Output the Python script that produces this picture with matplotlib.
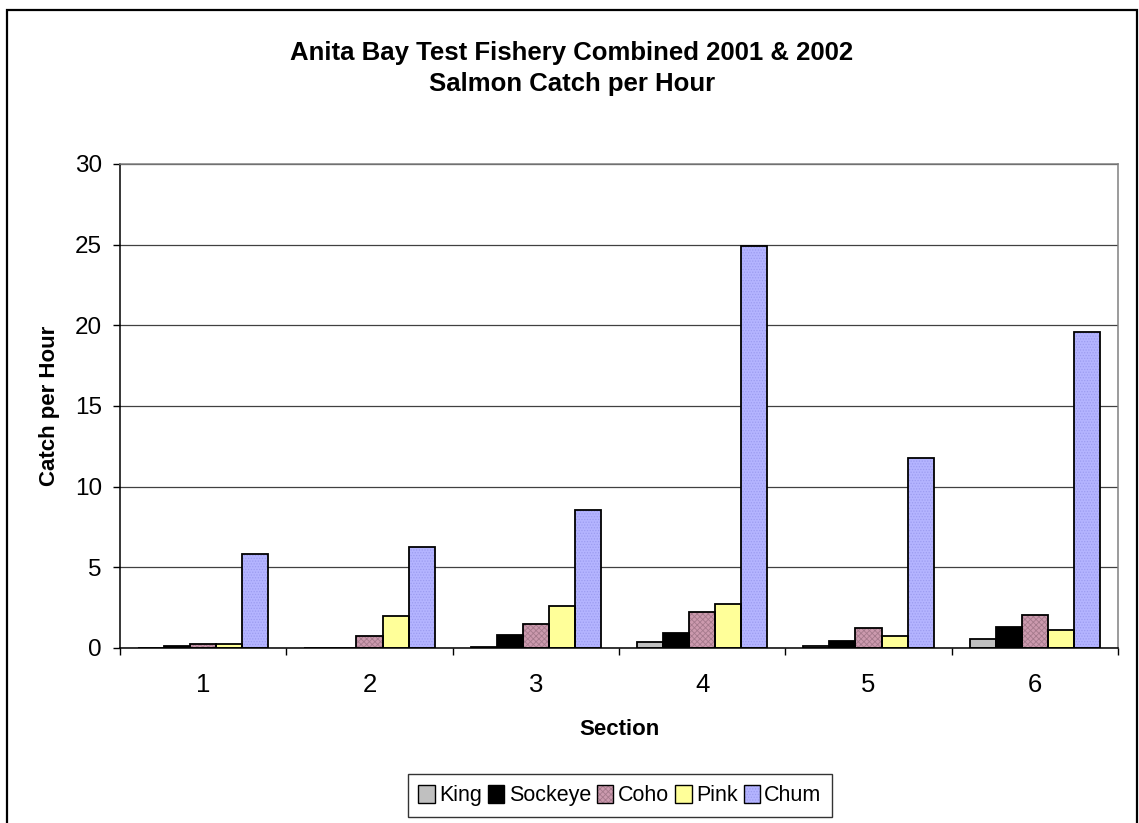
import matplotlib
matplotlib.use("Agg")
import matplotlib.pyplot as plt
from matplotlib.patches import Rectangle, Patch
from matplotlib.legend_handler import HandlerTuple
import numpy as np

plt.rcParams['font.family'] = ['Liberation Sans', 'DejaVu Sans']
plt.rcParams['hatch.linewidth'] = 0.6

sections = ["1", "2", "3", "4", "5", "6"]
species = ["King", "Sockeye", "Coho", "Pink", "Chum"]
king = [0.0, 0.0, 0.08, 0.4, 0.1, 0.54]
sockeye = [0.1, 0.0, 0.8, 0.95, 0.43, 1.3]
coho = [0.23, 0.77, 1.5, 2.25, 1.26, 2.03]
pink = [0.25, 2.0, 2.6, 2.75, 0.77, 1.14]
chum = [5.85, 6.25, 8.55, 24.9, 11.8, 19.6]
yticks = [0, 5, 10, 15, 20, 25, 30]

series = [king, sockeye, coho, pink, chum]
fills = ["#C0C0C0", "#000000", "#CC9AAE", "#FFFF99", "#B4B4FF"]
hatch_colors = [None, None, "#A57A8C", None, "#9C9CF0"]
hatches = [None, None, "xxxxxx", None, "......"]

W, H = 1139, 823
fig = plt.figure(figsize=(W / 100, H / 100), dpi=100)
fig.patch.set_facecolor("white")

# chart border
fig.patches.append(Rectangle((7 / W, -0.05), 1130 / W, 1.05 - 10 / H,
                             transform=fig.transFigure, fill=False,
                             edgecolor="black", linewidth=1.6, zorder=0))

left, right, top, bottom = 120, 1118, 164, 648
ax = fig.add_axes([left / W, 1 - bottom / H, (right - left) / W, (bottom - top) / H])

x = np.arange(len(sections))
bw = 0.157
handles = []
for i, (vals, fc, hc, ht, name) in enumerate(zip(series, fills, hatch_colors, hatches, species)):
    pos = x + (i - 2) * bw
    if ht:
        ax.bar(pos, vals, bw, color=fc, edgecolor=hc, hatch=ht, linewidth=0, zorder=2)
    else:
        ax.bar(pos, vals, bw, color=fc, linewidth=0, zorder=2)
    ax.bar(pos, vals, bw, facecolor="none", edgecolor="black", linewidth=1.3, zorder=3)
    if ht:
        h = (Patch(facecolor=fc, edgecolor=hc, hatch=ht, linewidth=0),
             Patch(facecolor="none", edgecolor="black", linewidth=1.0))
    else:
        h = (Patch(facecolor=fc, linewidth=0),
             Patch(facecolor="none", edgecolor="black", linewidth=1.0))
    handles.append(h)

ax.set_xlim(-0.5, len(sections) - 0.5)
ax.set_ylim(0, 30)
ax.set_yticks(yticks)
ax.set_yticklabels([str(v) for v in yticks])
ax.yaxis.grid(True, color="#404040", linewidth=0.9, zorder=0)
ax.set_axisbelow(True)

ax.set_xticks(np.arange(-0.5, len(sections), 1.0))
ax.set_xticklabels([])
ax.set_xticks(x, minor=True)
ax.set_xticklabels(sections, minor=True)
ax.tick_params(axis="x", which="major", direction="out", length=5, width=1, color="black")
ax.tick_params(axis="x", which="minor", length=0, pad=18, labelsize=18.5)
ax.tick_params(axis="y", direction="out", length=5, width=1, pad=8, labelsize=17.5)

for s in ["left", "bottom"]:
    ax.spines[s].set_color("black")
    ax.spines[s].set_linewidth(1.1)
for s in ["top", "right"]:
    ax.spines[s].set_color("#808080")
    ax.spines[s].set_linewidth(1.1)

ax.set_ylabel("Catch per Hour", fontsize=16, fontweight="bold")
ax.yaxis.set_label_coords(-0.0605, 0.5)
ax.set_xlabel("Section", fontsize=16, fontweight="bold")
ax.xaxis.set_label_coords(0.5, -0.147)

fig.text(572 / W, 1 - 41 / H,
         "Anita Bay Test Fishery Combined 2001 & 2002\nSalmon Catch per Hour",
         ha="center", va="top", fontsize=18.5, fontweight="bold", linespacing=1.39)

leg = fig.legend(handles, species, loc="center",
                 bbox_to_anchor=(620 / W, 1 - 795.5 / H), ncol=5,
                 handler_map={tuple: HandlerTuple(ndivide=1, pad=0)},
                 fontsize=15.5, frameon=True, fancybox=False, shadow=False,
                 handlelength=0.75, handleheight=0.9, handletextpad=0.2,
                 columnspacing=0.3, borderpad=0.5, borderaxespad=0)
leg.get_frame().set_edgecolor("black")
leg.get_frame().set_linewidth(1.0)

fig.savefig("out.png", dpi=100, facecolor="white")
